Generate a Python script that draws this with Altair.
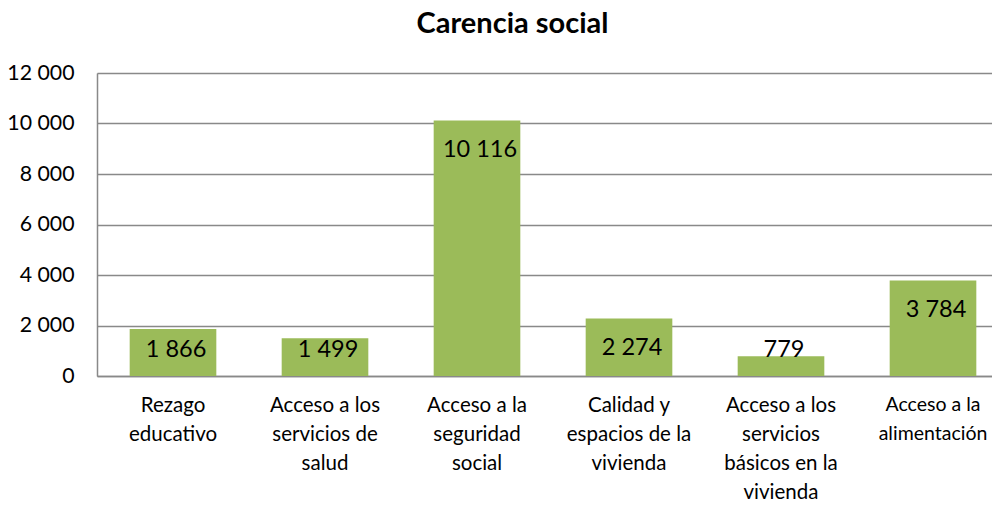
import altair as alt
import pandas as pd

categories = [
    ["Rezago", "educativo"],
    ["Acceso a los", "servicios de", "salud"],
    ["Acceso a la", "seguridad", "social"],
    ["Calidad y", "espacios de la", "vivienda"],
    ["Acceso a los", "servicios", "básicos en la", "vivienda"],
    ["Acceso a la", "alimentación"],
]
values = [1866, 1499, 10116, 2274, 779, 3784]
y_ticks = [0, 2000, 4000, 6000, 8000, 10000, 12000]

df = pd.DataFrame({"cat": ["|".join(c) for c in categories], "value": values})
order = list(df["cat"])

FONT = "Lato"
GREEN = "#9BBB59"
GRID = "#898989"

x = alt.X(
    "cat:N",
    sort=order,
    scale=alt.Scale(range=[0, 912], paddingInner=0.43, paddingOuter=0.215),
    axis=alt.Axis(
        title=None,
        labelAngle=0,
        labelExpr="split(datum.label, '|')",
        labelFont=FONT,
        labelFontSize={
            "condition": {"test": "indexof(datum.value, 'alimentaci') >= 0", "value": 19.5},
            "value": 20.5,
        },
        labelColor="#000000",
        labelLineHeight=29,
        labelPadding=19,
        labelBaseline="top",
        ticks=False,
        domainColor=GRID,
        domainWidth=1.5,
        labelLimit=200,
    ),
)

y = alt.Y(
    "value:Q",
    scale=alt.Scale(domain=[0, 12000], nice=False),
    axis=alt.Axis(
        title=None,
        values=y_ticks,
        labelExpr="replace(datum.label, ',', ' ')",
        labelFont=FONT,
        labelFontSize=21.3,
        labelColor="#000000",
        labelPadding=23,
        ticks=False,
        domainColor=GRID,
        domainWidth=1.5,
        gridColor=GRID,
        gridWidth=1.5,
    ),
)

bars = alt.Chart(df).mark_bar(color=GREEN).encode(x=x, y=y)

labels = (
    alt.Chart(df)
    .transform_calculate(
        label_y="max(datum.value - 1170, 1030)",
        txt="replace(format(datum.value, ','), ',', ' ')",
    )
    .mark_text(font=FONT, fontSize=23.5, color="#000000", baseline="middle", dx=3)
    .encode(
        x=alt.X("cat:N", sort=order),
        y=alt.Y("label_y:Q"),
        text="txt:N",
    )
)

chart = (
    alt.layer(bars, labels)
    .properties(
        width=895,
        height=303,
        autosize=alt.AutoSizeParams(type="none"),
        padding={"left": 89, "top": 65, "right": 0, "bottom": 125},
        title=alt.TitleParams(
            "Carencia social",
            font=FONT,
            fontSize=29,
            fontWeight="bold",
            color="#000000",
            anchor="middle",
            dx=-32,
            offset=23,
        ),
    )
    .configure_view(stroke=None)
    .configure(background="white")
)

chart.save("out.html", embed_options={"renderer": "svg", "actions": False})
